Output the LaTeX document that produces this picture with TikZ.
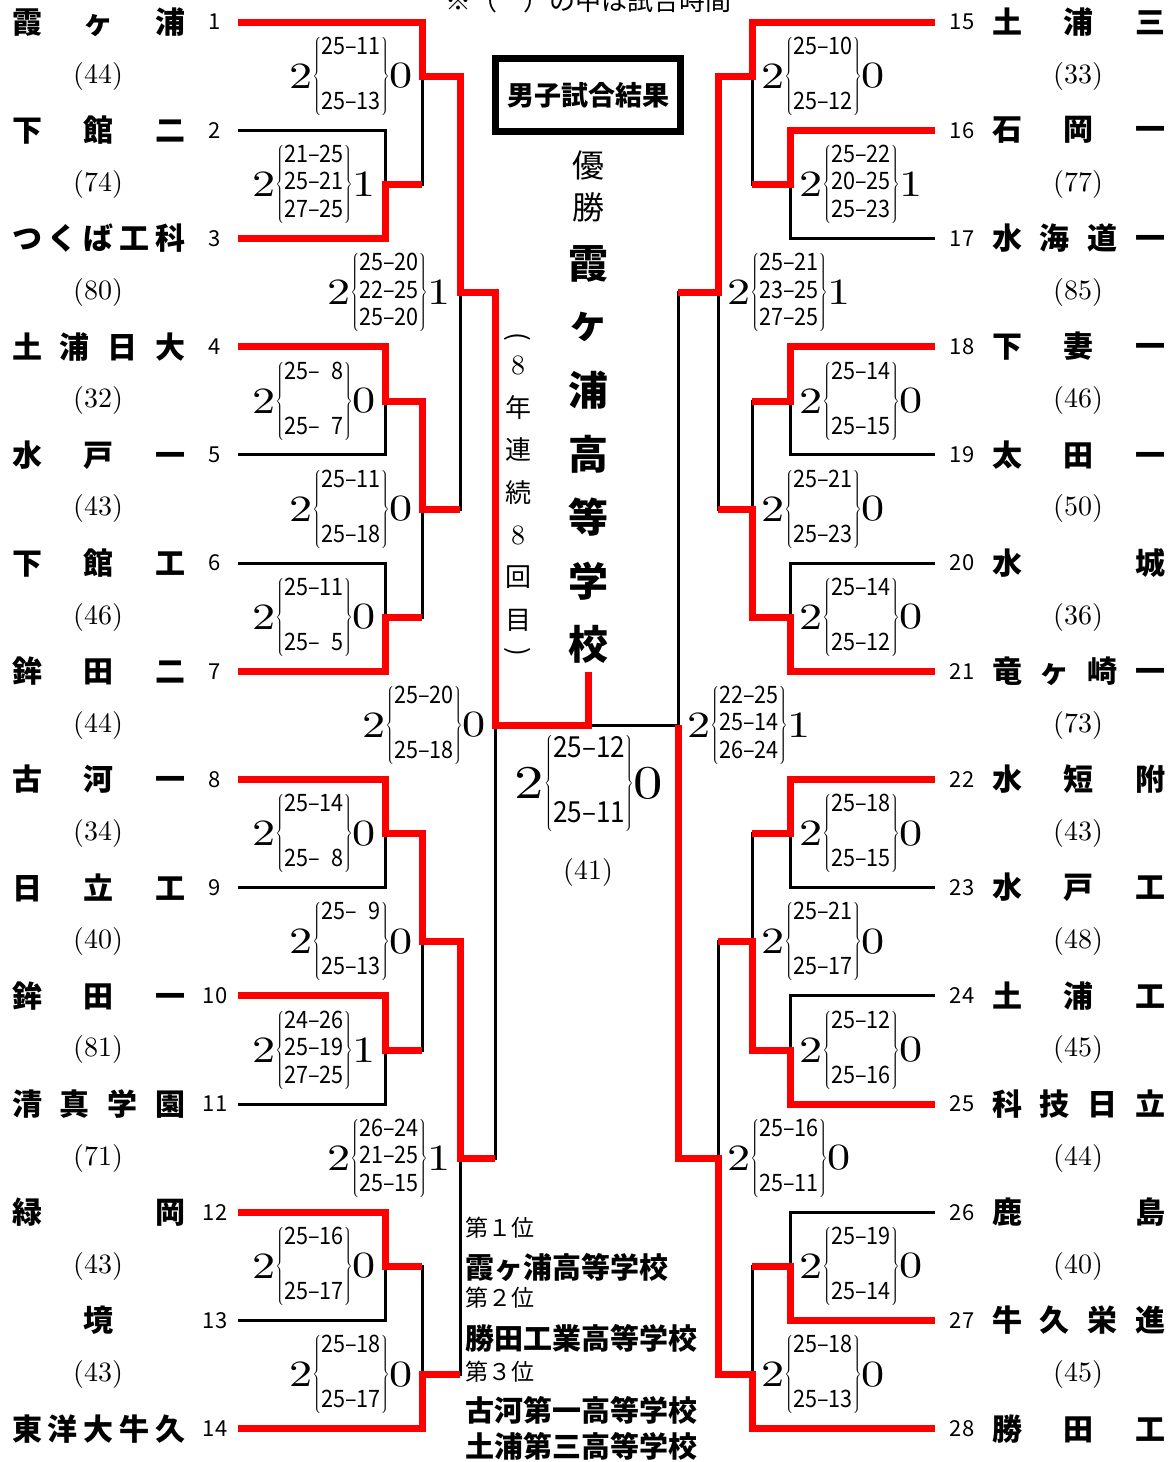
\documentclass[tikz,border=0pt]{standalone}
\usepackage{fontspec}
\newfontfamily\jp{Noto Sans CJK JP}
\newfontfamily\scdig{Noto Sans CJK JP}[FakeStretch=0.9]
\newfontfamily\cmten{lmroman10-regular}[Extension=.otf]
\newfontfamily\cmwide{lmroman10-regular}[Extension=.otf,FakeStretch=1.25]
\usetikzlibrary{positioning}

\newcommand{\nd}{\phantom{0}}
\newcommand{\eight}{{\cmten\fontsize{28}{28}\selectfont 8}}
\newcommand{\scsize}{24}
\newcommand{\scskip}{27.5}
\newcommand{\scbig}{37}
\newcommand{\bigdig}[2]{\vcenter{\hbox{\cmwide\fontsize{#1}{#1}\selectfont #2}}}
\newcommand{\sets}[5]{{\scdig\fontsize{\scsize}{\scskip}\selectfont
  $\bigdig{\scbig}{#1}\!\left\{\begin{tabular}{@{}c@{}}#2\\#3\\#4\end{tabular}\right\}\!\bigdig{\scbig}{#5}$}}

\begin{document}
\begin{tikzpicture}[x=1pt,y=-1pt,
    bk/.style={line width=3pt},
    rd/.style={line width=7pt,red},
    tname/.style={anchor=west,inner sep=0pt,font=\jp\bfseries\fontsize{30}{30}\selectfont},
    tnum/.style={inner sep=0pt,font=\jp\fontsize{22}{22}\selectfont},
    tm/.style={inner sep=0pt,font=\cmten\fontsize{28}{28}\selectfont},
    score/.style={inner sep=0pt},
    champ/.style={inner sep=0pt,font=\jp\bfseries\fontsize{40}{40}\selectfont},
    win/.style={inner sep=0pt,font=\jp\fontsize{32}{32}\selectfont},
    streak/.style={inner sep=0pt,font=\jp\fontsize{26}{26}\selectfont},
    rank/.style={anchor=west,inner sep=0pt,font=\jp\fontsize{23}{23}\selectfont},
    best/.style={anchor=west,inner sep=0pt,font=\jp\bfseries\fontsize{29}{29}\selectfont},
    title/.style={draw,line width=7.5pt,minimum width=185pt,minimum height=73pt,
      font=\jp\bfseries\fontsize{27}{27}\selectfont},
  ]
  \useasboundingbox (0,0) rectangle (1174,1462);

  % teams
  \foreach \nm [count=\i] in {{霞\hfill ヶ\hfill 浦},{下\hfill 館\hfill 二},{つ\hfill く\hfill ば\hfill 工\hfill 科},
      {土\hfill 浦\hfill 日\hfill 大},{水\hfill 戸\hfill 一},{下\hfill 館\hfill 工},{鉾\hfill 田\hfill 二},
      {古\hfill 河\hfill 一},{日\hfill 立\hfill 工},{鉾\hfill 田\hfill 一},{清\hfill 真\hfill 学\hfill 園},
      {緑\hfill 岡},{\hfill 境\hfill},{東\hfill 洋\hfill 大\hfill 牛\hfill 久}} {
    \node[tname] (nl\i) at (12,{22+(\i-1)*108.2}) {\makebox[173pt]{\nm}};
    \node[tnum] (ml\i) at (215,{22+(\i-1)*108.2}) {\i};
    \coordinate (L\i) at (238,{22+(\i-1)*108.2});
  }
  \foreach \nm [count=\i] in {{土\hfill 浦\hfill 三},{石\hfill 岡\hfill 一},{水\hfill 海\hfill 道\hfill 一},
      {下\hfill 妻\hfill 一},{太\hfill 田\hfill 一},{水\hfill 城},{竜\hfill ヶ\hfill 崎\hfill 一},
      {水\hfill 短\hfill 附},{水\hfill 戸\hfill 工},{土\hfill 浦\hfill 工},{科\hfill 技\hfill 日\hfill 立},
      {鹿\hfill 島},{牛\hfill 久\hfill 栄\hfill 進},{勝\hfill 田\hfill 工}} {
    \pgfmathtruncatemacro\k{\i+14}
    \node[tname] (nr\k) at (992,{22+(\i-1)*108.2}) {\makebox[173pt]{\nm}};
    \node[tnum] (mr\k) at (962,{22+(\i-1)*108.2}) {\k};
    \coordinate (R\k) at (935,{22+(\i-1)*108.2});
  }
  \foreach \t [count=\i] in {44,74,80,32,43,46,44,34,40,81,71,43,43}
    \node[tm] (tl\i) at (98,{76+(\i-1)*108.2}) {(\t)};
  \foreach \t [count=\i] in {33,77,85,46,50,36,73,43,48,45,44,40,45}
    \node[tm] (tr\i) at (1078,{76+(\i-1)*108.2}) {(\t)};

  % junctions
  \coordinate (a23) at (385,184);
  \coordinate (b1) at (422,76);
  \coordinate (a45) at (385,401);
  \coordinate (a67) at (385,617);
  \coordinate (b47) at (422,509);
  \coordinate (c17) at (460,292.5);
  \coordinate (a89) at (385,833.5);
  \coordinate (a1011) at (385,1050);
  \coordinate (b811) at (422,941.5);
  \coordinate (a1213) at (385,1266);
  \coordinate (b1214) at (422,1374.5);
  \coordinate (c814) at (460,1158);
  \coordinate (d) at (495,725);
  \coordinate (e1617) at (790,184);
  \coordinate (f15) at (752,76);
  \coordinate (e1819) at (790,401);
  \coordinate (e2021) at (790,617);
  \coordinate (f1821) at (752,509);
  \coordinate (g1521) at (718,292.5);
  \coordinate (e2223) at (790,833.5);
  \coordinate (e2425) at (790,1050);
  \coordinate (f2225) at (752,941.5);
  \coordinate (e2627) at (790,1266);
  \coordinate (f2628) at (752,1374.5);
  \coordinate (g2228) at (718,1158);
  \coordinate (h) at (678,725);
  \coordinate (top) at (588,672);

  % bracket
  \draw[bk] (L1) -| (b1) |- (a23);
  \draw[bk] (L2) -| (a23) |- (L3);
  \draw[bk] (L4) -| (a45) |- (L5);
  \draw[bk] (L6) -| (a67) |- (L7);
  \draw[bk] (a45) -| (b47) |- (a67);
  \draw[bk] (b1) -| (c17) |- (b47);
  \draw[bk] (L8) -| (a89) |- (L9);
  \draw[bk] (L10) -| (a1011) |- (L11);
  \draw[bk] (a89) -| (b811) |- (a1011);
  \draw[bk] (L12) -| (a1213) |- (L13);
  \draw[bk] (a1213) -| (b1214) |- (L14);
  \draw[bk] (b811) -| (c814) |- (b1214);
  \draw[bk] (c17) -| (d) |- (c814);
  \draw[bk] (R15) -| (f15) |- (e1617);
  \draw[bk] (R16) -| (e1617) |- (R17);
  \draw[bk] (R18) -| (e1819) |- (R19);
  \draw[bk] (R20) -| (e2021) |- (R21);
  \draw[bk] (e1819) -| (f1821) |- (e2021);
  \draw[bk] (f15) -| (g1521) |- (f1821);
  \draw[bk] (R22) -| (e2223) |- (R23);
  \draw[bk] (R24) -| (e2425) |- (R25);
  \draw[bk] (e2223) -| (f2225) |- (e2425);
  \draw[bk] (R26) -| (e2627) |- (R27);
  \draw[bk] (e2627) -| (f2628) |- (R28);
  \draw[bk] (f2225) -| (g2228) |- (f2628);
  \draw[bk] (g1521) -| (h) |- (g2228);
  \draw[bk] (d) -- (h);

  % winners
  \draw[rd] (L1) -| (b1) -| (c17) -| (d) -| (top);
  \draw[rd] (L3) -| (a23) -- (a23 -| b1);
  \draw[rd] (L4) -| (a45) -| (b47) -- (b47 -| c17);
  \draw[rd] (L7) -| (a67) -- (a67 -| b47);
  \draw[rd] (L8) -| (a89) -| (b811) -| (c814) -- (c814 -| d);
  \draw[rd] (L10) -| (a1011) -- (a1011 -| b811);
  \draw[rd] (L12) -| (a1213) -- (a1213 -| b1214);
  \draw[rd] (L14) -| (b1214) -- (b1214 -| c814);
  \draw[rd] (R15) -| (f15) -| (g1521) -- (g1521 -| h);
  \draw[rd] (R16) -| (e1617) -- (e1617 -| f15);
  \draw[rd] (R18) -| (e1819) -- (e1819 -| f1821);
  \draw[rd] (R21) -| (e2021) -| (f1821) -- (f1821 -| g1521);
  \draw[rd] (R22) -| (e2223) -- (e2223 -| f2225);
  \draw[rd] (R25) -| (e2425) -| (f2225) -- (f2225 -| g2228);
  \draw[rd] (R27) -| (e2627) -- (e2627 -| f2628);
  \draw[rd] (R28) -| (f2628) -| (g2228) -| (h);

  % scores
  \node[score,left=9pt of a23] (s23) {\sets{2}{21–25}{25–21}{27–25}{1}};
  \node[score,left=9pt of b1] (s1) {\sets{2}{25–11}{}{25–13}{0}};
  \node[score,left=9pt of c17] (s17) {\sets{2}{25–20}{22–25}{25–20}{1}};
  \node[score,left=9pt of a45] (s45) {\sets{2}{25–\nd8}{}{25–\nd7}{0}};
  \node[score,left=9pt of a67] (s67) {\sets{2}{25–11}{}{25–\nd5}{0}};
  \node[score,left=9pt of b47] (s47) {\sets{2}{25–11}{}{25–18}{0}};
  \node[score,left=9pt of a89] (s89) {\sets{2}{25–14}{}{25–\nd8}{0}};
  \node[score,left=9pt of a1011] (s1011) {\sets{2}{24–26}{25–19}{27–25}{1}};
  \node[score,left=9pt of b811] (s811) {\sets{2}{25–\nd9}{}{25–13}{0}};
  \node[score,left=9pt of a1213] (s1213) {\sets{2}{25–16}{}{25–17}{0}};
  \node[score,left=9pt of b1214] (s1214) {\sets{2}{25–18}{}{25–17}{0}};
  \node[score,left=9pt of c814] (s814) {\sets{2}{26–24}{21–25}{25–15}{1}};
  \node[score,left=9pt of d] (sd) {\sets{2}{25–20}{}{25–18}{0}};
  \node[score,right=9pt of f15] (s15) {\sets{2}{25–10}{}{25–12}{0}};
  \node[score,right=9pt of e1617] (s1617) {\sets{2}{25–22}{20–25}{25–23}{1}};
  \node[score,right=9pt of g1521] (s1521) {\sets{2}{25–21}{23–25}{27–25}{1}};
  \node[score,right=9pt of e1819] (s1819) {\sets{2}{25–14}{}{25–15}{0}};
  \node[score,right=9pt of f1821] (s1821) {\sets{2}{25–21}{}{25–23}{0}};
  \node[score,right=9pt of e2021] (s2021) {\sets{2}{25–14}{}{25–12}{0}};
  \node[score,right=9pt of h] (sh) {\sets{2}{22–25}{25–14}{26–24}{1}};
  \node[score,right=9pt of e2223] (s2223) {\sets{2}{25–18}{}{25–15}{0}};
  \node[score,right=9pt of f2225] (s2225) {\sets{2}{25–21}{}{25–17}{0}};
  \node[score,right=9pt of e2425] (s2425) {\sets{2}{25–12}{}{25–16}{0}};
  \node[score,right=9pt of g2228] (s2228) {\sets{2}{25–16}{}{25–11}{0}};
  \node[score,right=9pt of e2627] (s2627) {\sets{2}{25–19}{}{25–14}{0}};
  \node[score,right=9pt of f2628] (s2628) {\sets{2}{25–18}{}{25–13}{0}};
  \node[score] (sfin) at (589,783) {\renewcommand{\scsize}{29}\renewcommand{\scskip}{32.5}%
    \renewcommand{\scbig}{47}\sets{2}{25–12}{}{25–11}{0}};
  \node[tm] (tfin) at (588,872) {(41)};

  % centre
  \node[streak] (note) at (588,1) {※（　）の中は試合時間};
  \node[title] (ttl) at (588,95) {男子試合結果};
  \node[win] (yu) at (588,165) {優};
  \node[win] (sho) at (588,207) {勝};
  \foreach \c [count=\k] in {霞,ヶ,浦,高,等,学,校}
    \node[champ] (ch\k) at (588,{200+63.5*\k}) {\c};
  \node[streak,rotate=-90] (po) at (518,337) {(};
  \foreach \c [count=\k] in {\eight,年,連,続,\eight,回,目}
    \node[streak] (st\k) at (518,{322.5+42.5*\k}) {\c};
  \node[streak,rotate=-90] (pc) at (518,652) {)};

  % ranking
  \node[rank] (r1) at (465,1228) {第１位};
  \node[best] (w1) at (465,1267) {霞ヶ浦高等学校};
  \node[rank] (r2) at (465,1298) {第２位};
  \node[best] (w2) at (465,1338) {勝田工業高等学校};
  \node[rank] (r3) at (465,1372) {第３位};
  \node[best] (w3) at (465,1410) {古河第一高等学校};
  \node[best] (w4) at (465,1446) {土浦第三高等学校};
\end{tikzpicture}
\end{document}
